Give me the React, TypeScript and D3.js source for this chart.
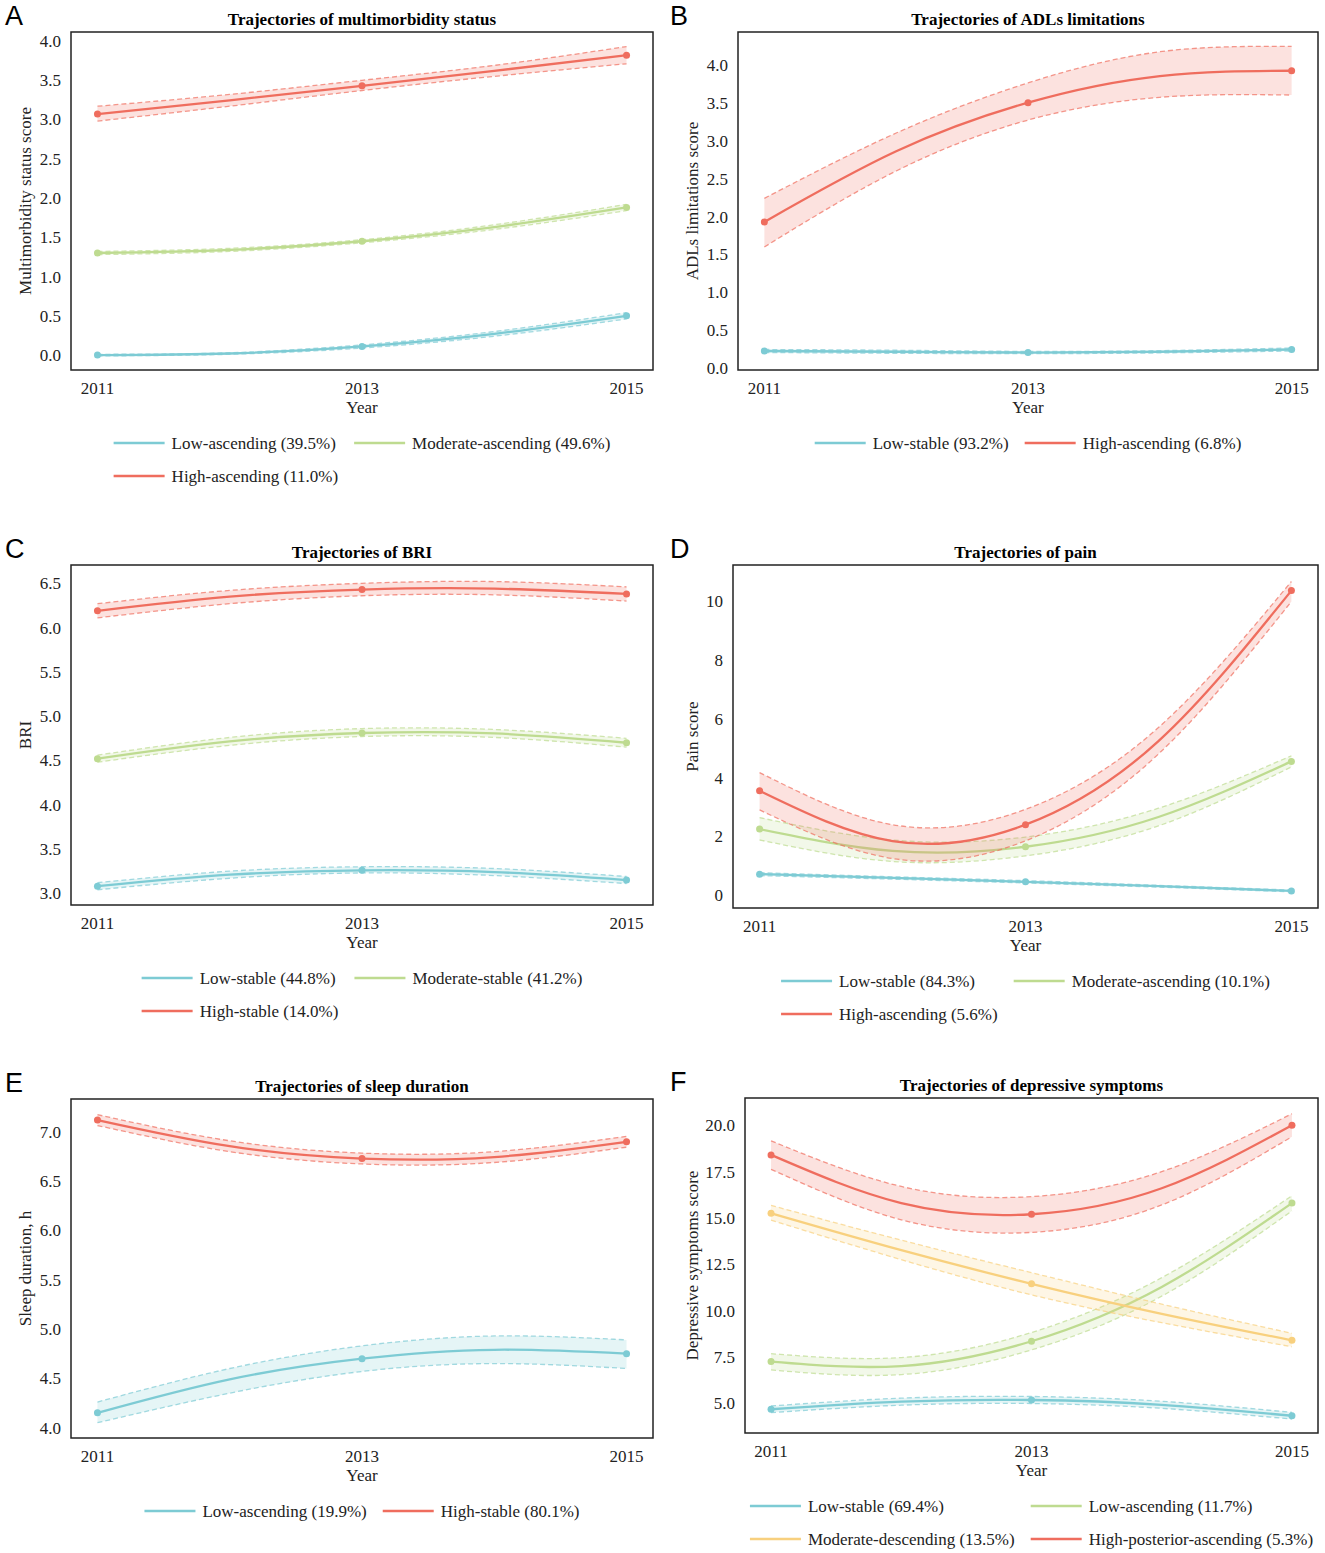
import React, { useRef, useEffect } from "react";
import * as d3 from "d3";

const years = [2011, 2012, 2013, 2014, 2015];
const waveIdx = [0, 2, 4];
const xTicks = [2011, 2013, 2015];

const TEAL = "#7dcbd4";
const GREEN = "#bedb90";
const YELLOW = "#f8d07e";
const RED = "#ef6d5e";

// A - multimorbidity
const aLowMean = [0.0, 0.02, 0.11, 0.27, 0.5];
const aLowLo = [-0.01, 0.01, 0.09, 0.24, 0.46];
const aLowHi = [0.01, 0.03, 0.13, 0.3, 0.54];
const aModMean = [1.3, 1.34, 1.45, 1.63, 1.88];
const aModLo = [1.28, 1.32, 1.43, 1.6, 1.84];
const aModHi = [1.32, 1.36, 1.47, 1.66, 1.92];
const aHighMean = [3.07, 3.245, 3.43, 3.62, 3.82];
const aHighLo = [2.98, 3.17, 3.37, 3.55, 3.71];
const aHighHi = [3.17, 3.32, 3.5, 3.69, 3.93];
const aTicks = [0, 0.5, 1, 1.5, 2, 2.5, 3, 3.5, 4];

// B - ADLs
const bLowMean = [0.23, 0.22, 0.21, 0.22, 0.25];
const bLowLo = [0.21, 0.2, 0.195, 0.205, 0.23];
const bLowHi = [0.25, 0.24, 0.225, 0.235, 0.27];
const bHighMean = [1.93, 2.86, 3.5, 3.85, 3.92];
const bHighLo = [1.6, 2.6, 3.27, 3.57, 3.6];
const bHighHi = [2.24, 3.1, 3.76, 4.17, 4.24];
const bTicks = [0, 0.5, 1, 1.5, 2, 2.5, 3, 3.5, 4];

// C - BRI
const cLowMean = [3.08, 3.21, 3.26, 3.24, 3.15];
const cLowLo = [3.04, 3.17, 3.23, 3.2, 3.11];
const cLowHi = [3.12, 3.25, 3.3, 3.28, 3.19];
const cModMean = [4.52, 4.715, 4.81, 4.805, 4.7];
const cModLo = [4.48, 4.67, 4.77, 4.76, 4.65];
const cModHi = [4.56, 4.76, 4.86, 4.85, 4.75];
const cHighMean = [6.19, 6.35, 6.43, 6.44, 6.38];
const cHighLo = [6.11, 6.27, 6.36, 6.37, 6.3];
const cHighHi = [6.27, 6.42, 6.5, 6.52, 6.46];
const cTicks = [3, 3.5, 4, 4.5, 5, 5.5, 6, 6.5];

// D - pain
const dLowMean = [0.72, 0.59, 0.46, 0.31, 0.15];
const dLowLo = [0.67, 0.55, 0.42, 0.28, 0.12];
const dLowHi = [0.77, 0.63, 0.5, 0.34, 0.18];
const dModMean = [2.25, 1.51, 1.65, 2.66, 4.55];
const dModLo = [1.88, 1.15, 1.34, 2.36, 4.36];
const dModHi = [2.64, 1.88, 1.98, 2.96, 4.74];
const dHighMean = [3.55, 1.84, 2.4, 5.24, 10.35];
const dHighLo = [2.9, 1.25, 1.85, 4.8, 9.98];
const dHighHi = [4.17, 2.4, 2.92, 5.7, 10.66];
const dTicks = [0, 2, 4, 6, 8, 10];

// E - sleep
const eLowMean = [4.15, 4.49, 4.7, 4.79, 4.75];
const eLowLo = [4.05, 4.35, 4.57, 4.65, 4.6];
const eLowHi = [4.26, 4.6, 4.83, 4.93, 4.89];
const eHighMean = [7.12, 6.855, 6.73, 6.745, 6.9];
const eHighLo = [7.065, 6.8, 6.675, 6.69, 6.845];
const eHighHi = [7.175, 6.91, 6.785, 6.8, 6.955];
const eTicks = [4, 4.5, 5, 5.5, 6, 6.5, 7];

// F - depressive symptoms
const fLowMean = [4.68, 5.09, 5.18, 4.92, 4.33];
const fLowLo = [4.5, 4.9, 4.99, 4.73, 4.15];
const fLowHi = [4.86, 5.28, 5.37, 5.11, 4.51];
const fAscMean = [7.25, 7.01, 8.35, 11.28, 15.8];
const fAscLo = [6.8, 6.55, 7.88, 10.78, 15.38];
const fAscHi = [7.68, 7.47, 8.82, 11.78, 16.2];
const fModMean = [15.25, 13.26, 11.45, 9.83, 8.4];
const fModLo = [14.88, 12.75, 10.85, 9.35, 8.05];
const fModHi = [15.68, 13.8, 12.05, 10.35, 8.78];
const fHighMean = [18.4, 15.8, 15.2, 16.6, 20.0];
const fHighLo = [17.62, 14.9, 14.22, 15.7, 19.38];
const fHighHi = [19.16, 16.7, 16.15, 17.5, 20.62];
const fTicks = [5, 7.5, 10, 12.5, 15, 17.5, 20];

type Series = { label: string; color: string; mean: number[]; lo: number[]; hi: number[] };
type Panel = {
  letter: string;
  title: string;
  yLabel: string;
  box: [number, number, number, number];
  yDomain: [number, number];
  ticks: number[];
  fmt: string;
  series: Series[];
};

const panels: Panel[] = [
  {
    letter: "A", title: "Trajectories of multimorbidity status", yLabel: "Multimorbidity status score",
    box: [71, 32, 653, 370], yDomain: [-0.19, 4.115], ticks: aTicks, fmt: ".1f",
    series: [
      { label: "Low-ascending (39.5%)", color: TEAL, mean: aLowMean, lo: aLowLo, hi: aLowHi },
      { label: "Moderate-ascending (49.6%)", color: GREEN, mean: aModMean, lo: aModLo, hi: aModHi },
      { label: "High-ascending (11.0%)", color: RED, mean: aHighMean, lo: aHighLo, hi: aHighHi },
    ],
  },
  {
    letter: "B", title: "Trajectories of ADLs limitations", yLabel: "ADLs limitations score",
    box: [738, 32, 1318, 370], yDomain: [-0.02, 4.43], ticks: bTicks, fmt: ".1f",
    series: [
      { label: "Low-stable (93.2%)", color: TEAL, mean: bLowMean, lo: bLowLo, hi: bLowHi },
      { label: "High-ascending (6.8%)", color: RED, mean: bHighMean, lo: bHighLo, hi: bHighHi },
    ],
  },
  {
    letter: "C", title: "Trajectories of BRI", yLabel: "BRI",
    box: [71, 565, 653, 905], yDomain: [2.868, 6.707], ticks: cTicks, fmt: ".1f",
    series: [
      { label: "Low-stable (44.8%)", color: TEAL, mean: cLowMean, lo: cLowLo, hi: cLowHi },
      { label: "Moderate-stable (41.2%)", color: GREEN, mean: cModMean, lo: cModLo, hi: cModHi },
      { label: "High-stable (14.0%)", color: RED, mean: cHighMean, lo: cHighLo, hi: cHighHi },
    ],
  },
  {
    letter: "D", title: "Trajectories of pain", yLabel: "Pain score",
    box: [733, 565, 1318, 908], yDomain: [-0.43, 11.22], ticks: dTicks, fmt: "d",
    series: [
      { label: "Low-stable (84.3%)", color: TEAL, mean: dLowMean, lo: dLowLo, hi: dLowHi },
      { label: "Moderate-ascending (10.1%)", color: GREEN, mean: dModMean, lo: dModLo, hi: dModHi },
      { label: "High-ascending (5.6%)", color: RED, mean: dHighMean, lo: dHighLo, hi: dHighHi },
    ],
  },
  {
    letter: "E", title: "Trajectories of sleep duration", yLabel: "Sleep duration, h",
    box: [71, 1099, 653, 1438], yDomain: [3.895, 7.334], ticks: eTicks, fmt: ".1f",
    series: [
      { label: "Low-ascending (19.9%)", color: TEAL, mean: eLowMean, lo: eLowLo, hi: eLowHi },
      { label: "High-stable (80.1%)", color: RED, mean: eHighMean, lo: eHighLo, hi: eHighHi },
    ],
  },
  {
    letter: "F", title: "Trajectories of depressive symptoms", yLabel: "Depressive symptoms score",
    box: [745, 1098, 1318, 1433], yDomain: [3.4, 21.47], ticks: fTicks, fmt: ".1f",
    series: [
      { label: "Low-stable (69.4%)", color: TEAL, mean: fLowMean, lo: fLowLo, hi: fLowHi },
      { label: "Low-ascending (11.7%)", color: GREEN, mean: fAscMean, lo: fAscLo, hi: fAscHi },
      { label: "Moderate-descending (13.5%)", color: YELLOW, mean: fModMean, lo: fModLo, hi: fModHi },
      { label: "High-posterior-ascending (5.3%)", color: RED, mean: fHighMean, lo: fHighLo, hi: fHighHi },
    ],
  },
];

const SERIF = "'Liberation Serif', 'Times New Roman', serif";
const SANS = "'Liberation Sans', Arial, sans-serif";
const FS = 17;

export default function App() {
  const svgRef = useRef<SVGSVGElement | null>(null);

  useEffect(() => {
    const svg = d3.select(svgRef.current);
    svg.selectAll("*").remove();

    panels.forEach((p, pi) => {
      const [x0, y0, x1, y1] = p.box;
      const g = svg.append("g");
      const x = d3.scaleLinear().domain([2010.8, 2015.2]).range([x0, x1]);
      const y = d3.scaleLinear().domain(p.yDomain).range([y1, y0]);
      const cx = (x0 + x1) / 2;
      const colX = x0 < 400 ? 5 : 670;

      g.append("text").attr("x", colX).attr("y", y0 - 7)
        .attr("font-family", SANS).attr("font-size", 27).text(p.letter);
      g.append("text").attr("x", cx).attr("y", y0 - 7).attr("text-anchor", "middle")
        .attr("font-family", SERIF).attr("font-weight", "bold").attr("font-size", 17).text(p.title);

      const clipId = `clip${pi}`;
      g.append("clipPath").attr("id", clipId).append("rect")
        .attr("x", x0).attr("y", y0).attr("width", x1 - x0).attr("height", y1 - y0);
      const plot = g.append("g").attr("clip-path", `url(#${clipId})`);

      const line = (vals: number[]) =>
        d3.line<number>().x((_, i) => x(years[i])).y((d) => y(d)).curve(d3.curveNatural)(vals);
      const area = (lo: number[], hi: number[]) =>
        d3.area<number>().x((_, i) => x(years[i])).y0((_, i) => y(lo[i])).y1((_, i) => y(hi[i]))
          .curve(d3.curveNatural)(lo);

      p.series.forEach((s) => {
        plot.append("path").attr("d", area(s.lo, s.hi)).attr("fill", s.color).attr("fill-opacity", 0.2);
        [s.lo, s.hi].forEach((b) => {
          plot.append("path").attr("d", line(b)).attr("fill", "none").attr("stroke", s.color)
            .attr("stroke-width", 1.3).attr("stroke-dasharray", "5,3").attr("opacity", 0.7);
        });
        plot.append("path").attr("d", line(s.mean)).attr("fill", "none").attr("stroke", s.color)
          .attr("stroke-width", 2.3);
        plot.selectAll(null).data(waveIdx).join("circle")
          .attr("cx", (i) => x(years[i])).attr("cy", (i) => y(s.mean[i])).attr("r", 3.5)
          .attr("fill", s.color);
      });

      g.append("rect").attr("x", x0).attr("y", y0).attr("width", x1 - x0).attr("height", y1 - y0)
        .attr("fill", "none").attr("stroke", "#222").attr("stroke-width", 1.5);

      const fmt = d3.format(p.fmt);
      g.selectAll(null).data(p.ticks).join("text")
        .attr("x", x0 - 10).attr("y", (d) => y(d)).attr("dy", "0.35em").attr("text-anchor", "end")
        .attr("font-family", SERIF).attr("font-size", FS).attr("fill", "#222").text((d) => fmt(d));
      g.selectAll(null).data(xTicks).join("text")
        .attr("x", (d) => x(d)).attr("y", y1 + 18).attr("dy", "0.35em").attr("text-anchor", "middle")
        .attr("font-family", SERIF).attr("font-size", FS).attr("fill", "#222").text((d) => String(d));
      g.append("text").attr("x", cx).attr("y", y1 + 37).attr("dy", "0.35em").attr("text-anchor", "middle")
        .attr("font-family", SERIF).attr("font-size", FS).attr("fill", "#222").text("Year");
      const ylx = x0 < 400 ? 25 : 692;
      g.append("text").attr("transform", `translate(${ylx},${(y0 + y1) / 2}) rotate(-90)`)
        .attr("dy", "0.35em").attr("text-anchor", "middle")
        .attr("font-family", SERIF).attr("font-size", FS).attr("fill", "#222").text(p.yLabel);

      // legend, two columns, centred under the plot
      const lineLen = 51, gap = 7, colGap = 16, rowH = 33, lfs = 17;
      const leg = g.append("g");
      const widths = p.series.map((s) => {
        const t = leg.append("text").attr("font-family", SERIF).attr("font-size", lfs).text(s.label);
        const w = (t.node() as SVGTextElement).getComputedTextLength();
        t.remove();
        return w;
      });
      const colW = [0, 1].map((c) =>
        d3.max(widths.filter((_, i) => i % 2 === c)) ?? 0).map((w) => w + lineLen + gap);
      const total = colW[0] + colW[1] + colGap;
      const lx = cx - total / 2;
      p.series.forEach((s, i) => {
        const col = i % 2, row = Math.floor(i / 2);
        const sx = lx + (col === 0 ? 0 : colW[0] + colGap);
        const sy = y1 + 73 + row * rowH;
        leg.append("line").attr("x1", sx).attr("x2", sx + lineLen).attr("y1", sy).attr("y2", sy)
          .attr("stroke", s.color).attr("stroke-width", 2.5);
        leg.append("text").attr("x", sx + lineLen + gap).attr("y", sy).attr("dy", "0.35em")
          .attr("font-family", SERIF).attr("font-size", lfs).attr("fill", "#222").text(s.label);
      });
    });
  }, []);

  return (
    <div style={{ position: "absolute", left: 0, top: 0, background: "#fff" }}>
      <svg ref={svgRef} width={1325} height={1553} />
    </div>
  );
}
